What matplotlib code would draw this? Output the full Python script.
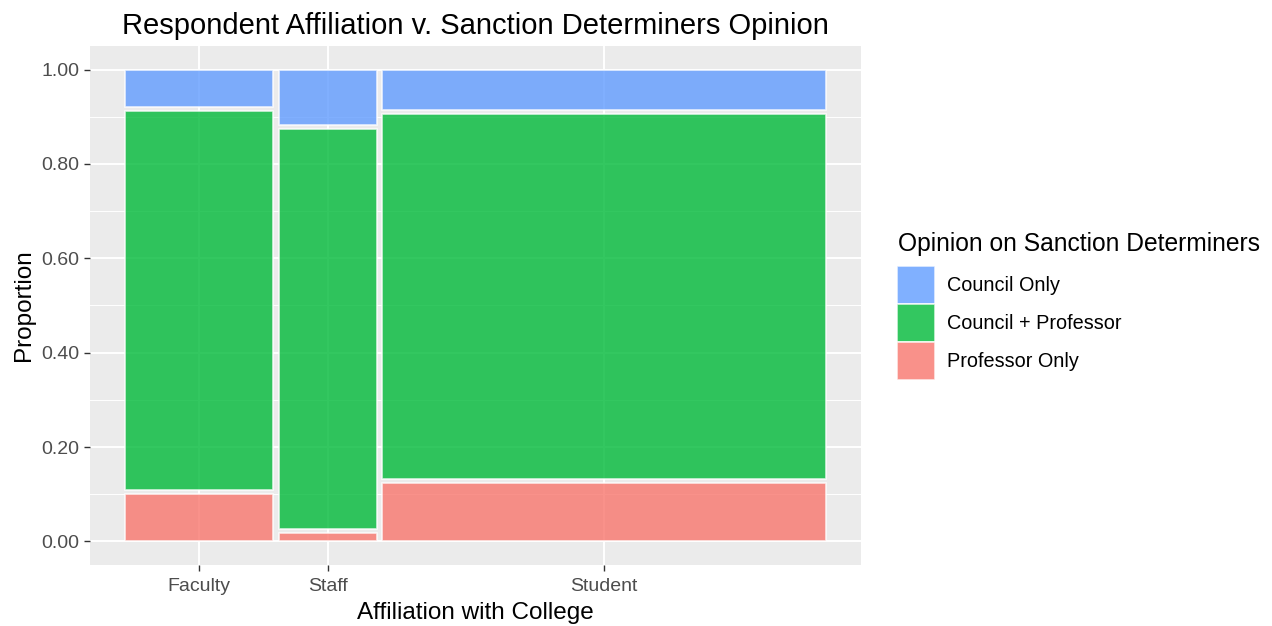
'''
  Mosaic plot of respondent affiliation v. opinion on sanction determiners,
drawn in the style of ggplot2 (theme_gray).
'''

import numpy as np
import matplotlib.pyplot as plt
from matplotlib.patches import Rectangle

plt.rcParams['font.family'] = ['Liberation Sans', 'DejaVu Sans']

# Affiliations and their share of respondents (column widths).
affiliations = ['Faculty', 'Staff', 'Student']
affil_share = [0.2145, 0.142, 0.6435]

# Opinions, bottom to top, and proportion within each affiliation.
opinions = ['Professor Only', 'Council + Professor', 'Council Only']
prof_only = [0.1016, 0.0183, 0.127]
council_prof = [0.8185, 0.862, 0.789]
council_only = [0.080, 0.120, 0.087]

colors = {'Council Only': '#619CFF',
          'Council + Professor': '#00BA38',
          'Professor Only': '#F8766D'}

gap = 0.008
tick_col = '#4D4D4D'
grid_col = 'white'
bg = '#EBEBEB'
W, H = 1272, 626

fig = plt.figure(figsize=(W / 100, H / 100), dpi=100)
ax = fig.add_axes([90 / W, 1 - 565 / H, 771 / W, 519 / H])
ax.set_facecolor(bg)

share = np.array(affil_share) / sum(affil_share)
widths = share * (1 - gap * (len(share) - 1))
lefts = np.concatenate([[0], np.cumsum(widths + gap)[:-1]])
centers = lefts + widths / 2

props = np.array([prof_only, council_prof, council_only])
props = props / props.sum(axis=0)

for j in range(len(affiliations)):
    bottom = 0.0
    for i, op in enumerate(opinions):
        h = props[i, j] * (1 - gap * (len(opinions) - 1))
        ax.add_patch(Rectangle((lefts[j], bottom), widths[j], h,
                               facecolor=colors[op], alpha=0.8,
                               edgecolor='white', linewidth=1.2, zorder=3))
        bottom += h + gap

# Axis limits with ggplot's 5% expansion.
ax.set_xlim(-0.05, 1.05)
ax.set_ylim(-0.05, 1.05)

ax.set_xticks(centers)
ax.set_xticklabels(affiliations)
ax.set_yticks(np.arange(0, 1.01, 0.2))
ax.set_yticklabels(['%.2f' % v for v in np.arange(0, 1.01, 0.2)])
ax.set_yticks(np.arange(0.1, 1.0, 0.2), minor=True)

ax.grid(True, which='major', color=grid_col, linewidth=1.4, zorder=1)
ax.grid(True, which='minor', axis='y', color=grid_col, linewidth=0.7, zorder=1)
ax.set_axisbelow(True)
for s in ax.spines.values():
    s.set_visible(False)
ax.tick_params(which='major', length=4.5, width=1.0, color='#333333',
               labelsize=14, labelcolor=tick_col, pad=3)
ax.tick_params(axis='x', pad=5)
ax.tick_params(which='minor', length=0)

ax.set_xlabel('Affiliation with College', fontsize=17.5, color='black', labelpad=5)
ax.set_ylabel('Proportion', fontsize=17.5, color='black', labelpad=5)
ax.set_title('Respondent Affiliation v. Sanction Determiners Opinion',
             fontsize=21, color='black', pad=9)

# Legend, top entry is Council Only. Title drawn separately.
legend_order = ['Council Only', 'Council + Professor', 'Professor Only']
handles = [Rectangle((0, 0), 1, 1, facecolor=colors[op], alpha=0.8,
                     edgecolor='white', linewidth=1.2)
           for op in legend_order]
fig.legend(handles, legend_order,
           loc='upper left', bbox_to_anchor=(897 / W, 1 - 266 / H),
           frameon=False, fontsize=14.3, borderaxespad=0, borderpad=0,
           handlelength=1.91, handleheight=2.56, handletextpad=0.6,
           labelspacing=0.0)
fig.text(898 / W, 1 - 244 / H, 'Opinion on Sanction Determiners',
         fontsize=17.7, ha='left', va='center')

fig.savefig('out.png', dpi=100)
